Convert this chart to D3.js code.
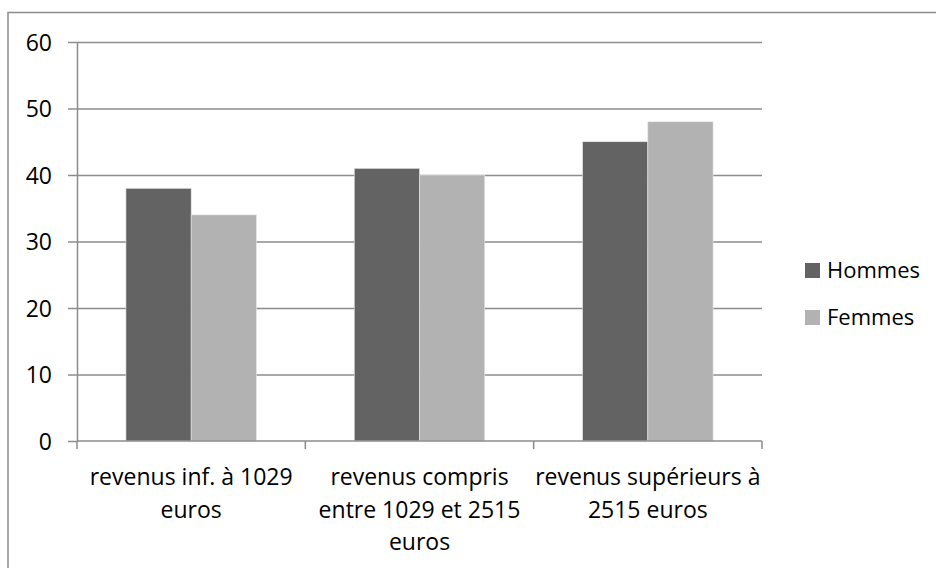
<!DOCTYPE html>
<html>
<head>
<meta charset="utf-8">
<script src="https://cdn.jsdelivr.net/npm/d3@7"></script>
<style>
    body { margin: 0; background: #fff; }
    svg { display: block; font-family: "Open Sans", sans-serif; }
    .grid line { stroke: #8c8c8c; stroke-width: 1.5; }
    .grid path { display: none; }
    .axis path, .axis line { stroke: #8c8c8c; stroke-width: 1.5; }
    .axis text { fill: #000; }
</style>
</head>
<body>
<div id="chart"></div>
<script>
// data
let categories = [
    "revenus inf. à 1029\neuros",
    "revenus compris\nentre 1029 et 2515\neuros",
    "revenus supérieurs à\n2515 euros"
]
let seriesNames = ["Hommes", "Femmes"]
let hommes = [38, 41, 45]
let femmes = [34, 40, 48]
let yTicks = [0, 10, 20, 30, 40, 50, 60]

let colors = ["#636363", "#b2b2b2"]
let font = '"Open Sans", sans-serif'

let width = 936
let height = 568
let margin = { top: 42, right: 174, bottom: 127, left: 77 }
let plotW = width - margin.left - margin.right
let plotH = height - margin.top - margin.bottom

let svg = d3.select('#chart').append('svg')
    .attr('width', width)
    .attr('height', height)

// outer frame (runs past the right and bottom edges)
svg.append('rect')
    .attr('x', 8).attr('y', 12.5)
    .attr('width', 950).attr('height', 600)
    .attr('fill', 'none')
    .attr('stroke', '#8c8c8c')
    .attr('stroke-width', 1.5)

let g = svg.append('g')
    .attr('transform', 'translate(' + margin.left + ',' + margin.top + ')')

let x0 = d3.scaleBand()
    .domain(categories)
    .range([0, plotW])
    .paddingInner(0)
    .paddingOuter(0)

// gap width 150% -> inner group takes 2 / 3.5 of the band
let x1 = d3.scaleBand()
    .domain(seriesNames)
    .range([0, x0.bandwidth() * 2 / 3.5])

let groupOffset = (x0.bandwidth() - x1.range()[1]) / 2

let y = d3.scaleLinear()
    .domain([0, 60])
    .range([plotH, 0])

g.append('g')
    .attr('class', 'grid')
    .call(d3.axisLeft(y).tickValues(yTicks.slice(1)).tickSize(-plotW).tickFormat(''))

// bars
let rows = categories.map((c, i) => ({ cat: c, values: [hommes[i], femmes[i]] }))

g.selectAll('.group')
    .data(rows)
    .enter().append('g')
    .attr('class', 'group')
    .attr('transform', d => 'translate(' + (x0(d.cat) + groupOffset) + ',0)')
    .selectAll('rect')
    .data(d => d.values.map((v, j) => ({ name: seriesNames[j], value: v, j: j })))
    .enter().append('rect')
    .attr('x', d => x1(d.name))
    .attr('y', d => y(d.value))
    .attr('width', x1.bandwidth())
    .attr('height', d => plotH - y(d.value))
    .attr('fill', d => colors[d.j])
    .attr('stroke', '#e6e6e6')
    .attr('stroke-width', 0.6)

// y axis
let yAxis = g.append('g')
    .attr('class', 'axis')
    .call(d3.axisLeft(y).tickValues(yTicks).tickSizeInner(9).tickSizeOuter(0).tickPadding(16))
    .attr('font-family', font)
    .attr('font-size', 23)
yAxis.selectAll('text')
    .attr('dy', '0.36em')

// x axis with ticks at category boundaries
let xAxis = g.append('g')
    .attr('class', 'axis')
    .attr('transform', 'translate(0,' + plotH + ')')
    .attr('font-family', font)
    .attr('font-size', 23)
xAxis.append('line')
    .attr('x1', 0).attr('x2', plotW)
let bounds = categories.map(c => x0(c)).concat([plotW])
xAxis.selectAll('.tick')
    .data(bounds)
    .enter().append('line')
    .attr('x1', d => d).attr('x2', d => d)
    .attr('y1', 0).attr('y2', 8)

xAxis.selectAll('.label')
    .data(categories)
    .enter().append('text')
    .attr('class', 'label')
    .attr('text-anchor', 'middle')
    .attr('x', d => x0(d) + x0.bandwidth() / 2)
    .selectAll('tspan')
    .data(d => d.split('\n'))
    .enter().append('tspan')
    .attr('x', function() { return d3.select(this.parentNode).attr('x') })
    .attr('y', (d, i) => 44 + i * 32.5)
    .text(d => d)

// legend
let legend = svg.append('g')
    .attr('transform', 'translate(805,263)')
let items = legend.selectAll('g')
    .data(seriesNames)
    .enter().append('g')
    .attr('transform', (d, i) => 'translate(0,' + i * 47 + ')')
items.append('rect')
    .attr('width', 15).attr('height', 15)
    .attr('fill', (d, i) => colors[i])
items.append('text')
    .attr('x', 22).attr('y', 15)
    .style('font-size', '22px')
    .text(d => d)
</script>
</body>
</html>
